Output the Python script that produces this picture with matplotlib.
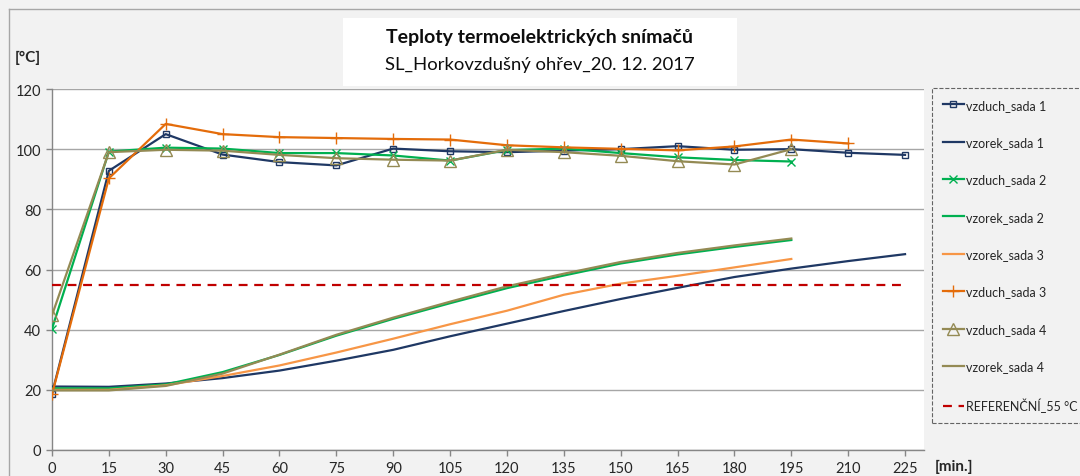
import matplotlib
matplotlib.use("Agg")
import matplotlib.pyplot as plt
from matplotlib.patches import Rectangle
from matplotlib.lines import Line2D

plt.rcParams['font.family'] = ['Lato', 'DejaVu Sans']

# time axis [min]
t_full = [0, 15, 30, 45, 60, 75, 90, 105, 120, 135, 150, 165, 180, 195, 210, 225]

vzduch_1 = [18.7, 92.8, 105.0, 98.2, 95.7, 94.6, 100.2, 99.3, 99.0, 99.5, 100.0, 101.0, 99.8, 100.0, 98.8, 98.1]
vzorek_1 = [21.1, 21.0, 22.1, 23.9, 26.4, 29.7, 33.3, 37.8, 42.0, 46.2, 50.2, 53.9, 57.5, 60.3, 62.8, 65.1]

vzduch_2 = [40.3, 99.2, 100.5, 100.2, 98.7, 98.7, 97.9, 96.2, 99.7, 100.2, 98.7, 97.3, 96.4, 95.9]
vzorek_2 = [20.5, 20.5, 21.8, 25.9, 31.6, 38.0, 43.6, 48.8, 53.8, 58.0, 62.0, 65.0, 67.5, 69.8]

vzorek_3 = [20.0, 20.0, 21.5, 24.6, 28.1, 32.4, 37.0, 41.8, 46.3, 51.6, 55.3, 57.9, 60.7, 63.5]
vzduch_3 = [18.5, 90.3, 108.4, 105.0, 104.0, 103.7, 103.4, 103.2, 101.3, 100.6, 100.1, 99.6, 100.9, 103.2, 101.9]

vzduch_4 = [44.8, 99.0, 99.8, 99.5, 98.1, 97.0, 96.5, 96.2, 99.8, 99.0, 97.8, 96.0, 94.9, 100.0]
vzorek_4 = [19.8, 19.8, 21.3, 25.4, 31.7, 38.3, 44.0, 49.3, 54.4, 58.6, 62.5, 65.5, 68.0, 70.3]

ref_value = 55

navy = '#1f3864'
green = '#00b050'
orange_l = '#f79646'
orange_d = '#e46c0a'
olive = '#948a54'
red = '#c00000'

fig = plt.figure(figsize=(10.8, 4.77), dpi=100, facecolor='#f2f2f2')
ax = fig.add_axes([52 / 1080, 1 - 451 / 477, (924 - 52) / 1080, (451 - 90) / 477])
ax.set_facecolor('white')

lw = 1.6
ax.plot(t_full, vzduch_1, color=navy, lw=lw, marker='s', ms=4, mfc='none', mew=1.0, label='vzduch_sada 1', zorder=3)
ax.plot(t_full, vzorek_1, color=navy, lw=lw, label='vzorek_sada 1', zorder=3)
ax.plot(t_full[:len(vzduch_2)], vzduch_2, color=green, lw=lw, marker='x', ms=6, mew=1.0, label='vzduch_sada 2', zorder=3)
ax.plot(t_full[:len(vzorek_2)], vzorek_2, color=green, lw=lw, label='vzorek_sada 2', zorder=3)
ax.plot(t_full[:len(vzorek_3)], vzorek_3, color=orange_l, lw=lw, label='vzorek_sada 3', zorder=3)
ax.plot(t_full[:len(vzduch_3)], vzduch_3, color=orange_d, lw=lw, marker='+', ms=9, mew=1.0, label='vzduch_sada 3', zorder=3)
ax.plot(t_full[:len(vzduch_4)], vzduch_4, color=olive, lw=lw, marker='^', ms=8, mfc='none', mew=1.0, label='vzduch_sada 4', zorder=3)
ax.plot(t_full[:len(vzorek_4)], vzorek_4, color=olive, lw=lw, label='vzorek_sada 4', zorder=3)
ax.plot([t_full[0], t_full[-1]], [ref_value, ref_value], color=red, lw=1.6, ls=(0, (4, 3)), label='REFERENČNÍ_55 °C', zorder=3)

ax.set_xlim(0, 230)
ax.set_ylim(0, 120)
ax.set_xticks(range(0, 226, 15))
ax.set_yticks(range(0, 121, 20))
ax.grid(axis='y', color='#a6a6a6', lw=1.0, zorder=0)
ax.set_axisbelow(True)
for s in ['top', 'right']:
    ax.spines[s].set_visible(False)
for s in ['left', 'bottom']:
    ax.spines[s].set_color('#868686')
    ax.spines[s].set_linewidth(1.0)
ax.tick_params(axis='both', colors='#868686', length=4, width=1.0, labelsize=10.5, labelcolor='#262626', pad=4)

# axis unit labels
fig.text(15 / 1080, 1 - 58 / 477, '[°C]', fontsize=11, fontweight='bold', color='#262626', va='center', ha='left')
fig.text(935 / 1080, 1 - 467 / 477, '[min.]', fontsize=11, fontweight='bold', color='#262626', va='center', ha='left')

# title box
fig.patches.append(Rectangle((343 / 1080, 1 - 87 / 477), (737 - 343) / 1080, (87 - 19) / 477,
                             transform=fig.transFigure, facecolor='white', edgecolor='none', zorder=0))
fig.text(540 / 1080, 1 - 38 / 477, 'Teploty termoelektrických snímačů', fontsize=14, fontweight='bold',
         color='#0d0d0d', ha='center', va='center')
fig.text(540 / 1080, 1 - 65 / 477, 'SL_Horkovzdušný ohřev_20. 12. 2017', fontsize=13.3,
         color='#0d0d0d', ha='center', va='center')

# outer chart border
fig.add_artist(Line2D([9 / 1080, 9 / 1080], [0, 1 - 10 / 477], transform=fig.transFigure, color='#a6a6a6', lw=1.0))
fig.add_artist(Line2D([9 / 1080, 1], [1 - 10 / 477, 1 - 10 / 477], transform=fig.transFigure, color='#a6a6a6', lw=1.0))

leg = fig.legend(loc='upper left', bbox_to_anchor=(932 / 1080, 1 - 89 / 477), fontsize=9,
                 frameon=True, fancybox=False, handlelength=1.7, handletextpad=0.15,
                 labelspacing=2.03, borderpad=0.85, borderaxespad=0)
frame = leg.get_frame()
frame.set_facecolor('#f2f2f2')
frame.set_edgecolor('#404040')
frame.set_linestyle('--')
frame.set_linewidth(0.8)
for txt in leg.get_texts():
    txt.set_color('#262626')

fig.savefig('out.png', dpi=100, facecolor=fig.get_facecolor())
